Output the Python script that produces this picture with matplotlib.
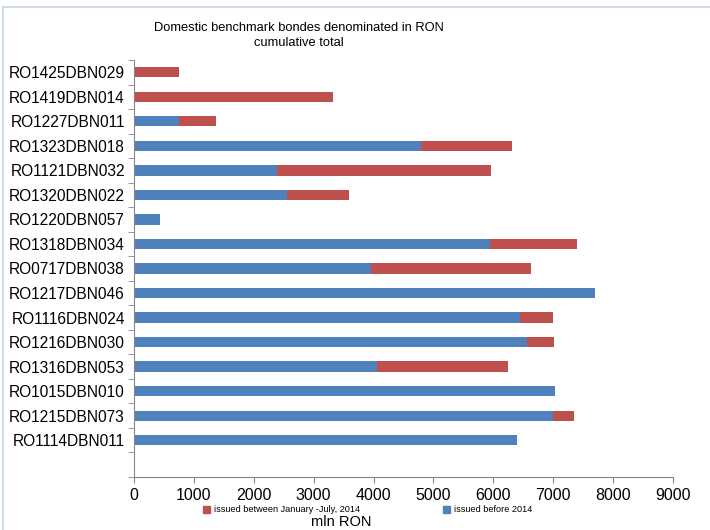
import matplotlib.pyplot as plt
from matplotlib.patches import Rectangle, Patch
from matplotlib.ticker import FixedLocator

plt.rcParams['font.family'] = ['Liberation Sans', 'DejaVu Sans']

# bonds listed bottom to top
bonds = ['RO1114DBN011', 'RO1215DBN073', 'RO1015DBN010', 'RO1316DBN053',
         'RO1216DBN030', 'RO1116DBN024', 'RO1217DBN046', 'RO0717DBN038',
         'RO1318DBN034', 'RO1220DBN057', 'RO1320DBN022', 'RO1121DBN032',
         'RO1323DBN018', 'RO1227DBN011', 'RO1419DBN014', 'RO1425DBN029']
# mln RON issued before 2014
before_2014 = [6394, 6996, 7029, 4055, 6561, 6439, 7698, 3955,
               5938, 429, 2551, 2384, 4795, 747, 0, 0]
# mln RON issued between January and July 2014
jan_jul_2014 = [0, 351, 0, 2189, 452, 557, 0, 2673,
                1459, 0, 1036, 3576, 1516, 618, 3315, 747]

blue = '#4F81BD'
red = '#C0504D'
grey = '#868686'

fig = plt.figure(figsize=(7.1, 5.3), dpi=100)
ax = fig.add_axes([134 / 710, 1 - 477 / 530, 539 / 710, 417 / 530])

ypos = list(range(len(bonds)))
ax.barh(ypos, before_2014, height=0.42, color=blue, label='issued before 2014')
ax.barh(ypos, jan_jul_2014, height=0.42, left=before_2014, color=red,
        label='issued between January -July, 2014')

ax.set_xlim(0, 9000)
ax.set_ylim(-1.5, len(bonds) - 0.5)
ax.set_xticks(range(0, 9001, 1000))
ax.set_yticks(ypos)
ax.set_yticklabels(bonds, fontsize=11.2)
ax.yaxis.set_minor_locator(FixedLocator([i - 0.5 for i in range(-1, len(bonds) + 1)]))
ax.tick_params(axis='y', which='major', length=0, pad=6.5)
ax.tick_params(axis='y', which='minor', length=4, color=grey, direction='out')
ax.tick_params(axis='x', length=4, color=grey, direction='out', labelsize=11.5, pad=4)

for side in ['top', 'right']:
    ax.spines[side].set_visible(False)
for side in ['left', 'bottom']:
    ax.spines[side].set_color(grey)

fig.text(299 / 710, 1 - 28 / 530, 'Domestic benchmark bondes denominated in RON',
         ha='center', va='center', fontsize=9.3)
fig.text(299 / 710, 1 - 43 / 530, 'cumulative total',
         ha='center', va='center', fontsize=9.3)

handles = [Patch(color=red), Patch(color=blue)]
fig.legend(handles, ['issued between January -July, 2014', 'issued before 2014'],
           loc='center left', bbox_to_anchor=(203 / 710, 1 - 510 / 530),
           ncol=2, frameon=False, fontsize=6.6, handlelength=0.8, handleheight=0.8,
           handletextpad=0.45, columnspacing=9.0, borderpad=0, borderaxespad=0)
fig.text(341 / 710, 1 - 522 / 530, 'mln RON', ha='center', va='center', fontsize=10.5)

# chart area border
fig.patches.append(Rectangle((3 / 710, -0.1), 1.2, 1 - 7 / 530 + 0.1,
                             transform=fig.transFigure, fill=False,
                             edgecolor='#C6D5E6', linewidth=1.2))

fig.savefig('out.png', dpi=100)
